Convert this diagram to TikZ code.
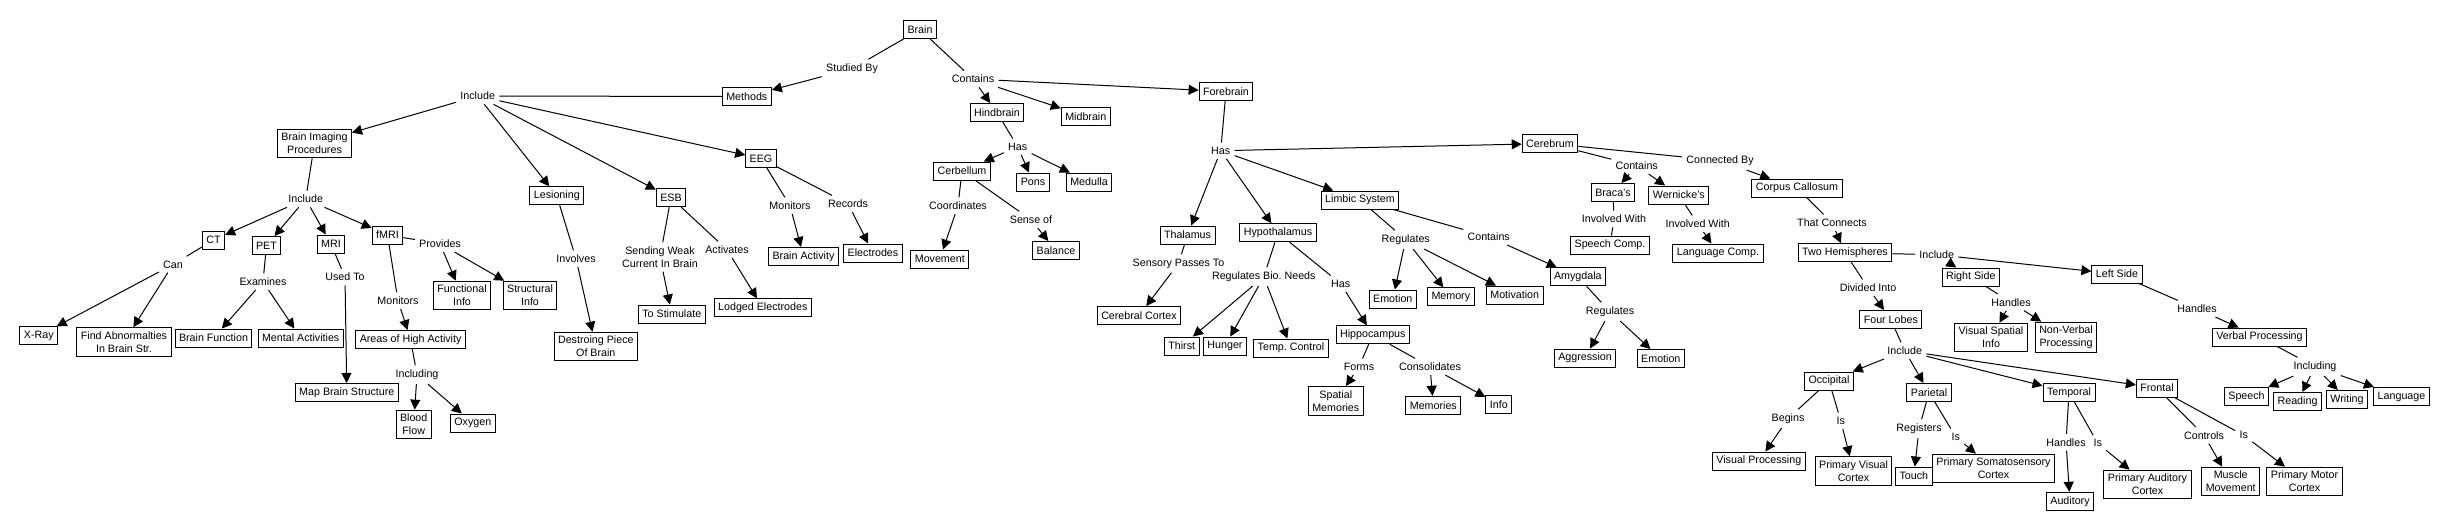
\documentclass[tikz,border=0pt]{standalone}
\usepackage{fontspec}
\setmainfont{Liberation Sans}
\usetikzlibrary{arrows.meta}

\begin{document}
\begin{tikzpicture}[x=0.5pt,y=-0.5pt,
		every node/.style={font=\fontsize{5.35}{6.4}\selectfont,align=center},
		box/.style={draw,line width=0.5pt,inner xsep=2pt,inner ysep=2pt,minimum height=9pt},
		lbl/.style={inner sep=2pt},
		arr/.style={-{Triangle[length=5pt,width=5pt]}},
		link/.style={line width=0.5pt}]
		\useasboundingbox (0,0) rectangle (2450,531);
		\node[box] (brain) at (920,29.5) {Brain};
		\node[lbl] (studied) at (852,68.7) {Studied By};
		\node[lbl] (contains) at (973,79) {Contains};
		\node[box] (methods) at (746.8,96.5) {Methods};
		\node[lbl] (incl) at (477.7,96) {Include};
		\node[box] (bip) at (314.5,143.5) {Brain Imaging\\Procedures};
		\node[box] (lesion) at (556.8,195.8) {Lesioning};
		\node[box] (esb) at (671,197.7) {ESB};
		\node[box] (eeg) at (761,158.5) {EEG};
		\node[lbl] (bipinc) at (305.7,199) {Include};
		\node[box] (ct) at (213.5,240) {CT};
		\node[box] (pet) at (266.5,245.5) {PET};
		\node[box] (mri) at (331,244) {MRI};
		\node[box] (fmri) at (387.5,235) {fMRI};
		\node[lbl] (can) at (173,264.5) {Can};
		\node[box] (xray) at (38.8,335.8) {X-Ray};
		\node[box] (abn) at (124,342) {Find Abnormalties\\In Brain Str.};
		\node[lbl] (exam) at (263,281.7) {Examines};
		\node[box] (bfunc) at (213.5,338) {Brain Function};
		\node[box] (mental) at (300.7,338) {Mental Activities};
		\node[lbl] (usedto) at (345,277) {Used To};
		\node[box] (map) at (346.8,392.5) {Map Brain Structure};
		\node[lbl] (fmon) at (398,300.7) {Monitors};
		\node[box] (areas) at (410.6,339.5) {Areas of High Activity};
		\node[lbl] (inclg) at (417,374.7) {Including};
		\node[box] (blood) at (413.7,424.5) {Blood\\Flow};
		\node[box] (oxy) at (472.8,423) {Oxygen};
		\node[lbl] (prov) at (440,243.7) {Provides};
		\node[box] (func) at (462,295.5) {Functional\\Info};
		\node[box] (struct) at (530,295.5) {Structural\\Info};
		\node[lbl] (invol) at (576,258.7) {Involves};
		\node[box] (destroy) at (595.8,346.5) {Destroing Piece\\Of Brain};
		\node[lbl] (send) at (660,257) {Sending Weak\\Current In Brain};
		\node[box] (stim) at (671.8,314) {To Stimulate};
		\node[lbl] (activ) at (727,249.7) {Activates};
		\node[box] (lodged) at (762.8,307.8) {Lodged Electrodes};
		\node[lbl] (emon) at (790,205.7) {Monitors};
		\node[box] (bact) at (803.5,256.5) {Brain Activity};
		\node[lbl] (rec) at (848,203.7) {Records};
		\node[box] (electr) at (873,253) {Electrodes};
		\node[box] (hind) at (997,112.5) {Hindbrain};
		\node[box] (mid) at (1085.8,116.5) {Midbrain};
		\node[box] (fore) at (1226,91.5) {Forebrain};
		\node[lbl] (hhas) at (1017.7,146.7) {Has};
		\node[box] (cerb) at (962,171) {Cerbellum};
		\node[box] (pons) at (1033,182) {Pons};
		\node[box] (medulla) at (1089,182) {Medulla};
		\node[lbl] (coord) at (958,205.7) {Coordinates};
		\node[lbl] (sense) at (1031,219.7) {Sense of};
		\node[box] (move) at (939.8,259) {Movement};
		\node[box] (bal) at (1056,250.5) {Balance};
		\node[lbl] (fhas) at (1220.7,150.7) {Has};
		\node[box] (thal) at (1187.5,235) {Thalamus};
		\node[box] (hypo) at (1278,232.8) {Hypothalamus};
		\node[box] (limbic) at (1360,200) {Limbic System};
		\node[box] (cerebrum) at (1550,143.5) {Cerebrum};
		\node[lbl] (sens) at (1178.5,263.5) {Sensory Passes To};
		\node[box] (cortex) at (1139,315.5) {Cerebral Cortex};
		\node[lbl] (regbio) at (1263.8,276.7) {Regulates Bio.\ Needs};
		\node[box] (thirst) at (1181.7,346) {Thirst};
		\node[box] (hunger) at (1225,346) {Hunger};
		\node[box] (temp) at (1291,348) {Temp.\ Control};
		\node[lbl] (yhas) at (1340.7,283.7) {Has};
		\node[box] (hippo) at (1372.8,334.8) {Hippocampus};
		\node[lbl] (forms) at (1359,366.7) {Forms};
		\node[lbl] (consol) at (1430,366.7) {Consolidates};
		\node[box] (spatial) at (1335.8,400.8) {Spatial\\Memories};
		\node[box] (memories) at (1433.3,405.3) {Memories};
		\node[box] (info) at (1498.8,404.3) {Info};
		\node[lbl] (lreg) at (1405.7,239.7) {Regulates};
		\node[lbl] (lcont) at (1488.7,236.7) {Contains};
		\node[box] (emo) at (1392.8,299) {Emotion};
		\node[box] (memory) at (1450.8,296.8) {Memory};
		\node[box] (motiv) at (1514.7,295) {Motivation};
		\node[box] (amyg) at (1577.8,276.8) {Amygdala};
		\node[lbl] (areg) at (1610,311.7) {Regulates};
		\node[box] (aggr) at (1585,358) {Aggression};
		\node[box] (aemo) at (1660.8,358.5) {Emotion};
		\node[lbl] (ccont) at (1636.7,165.7) {Contains};
		\node[box] (braca) at (1613,192.5) {Braca's};
		\node[box] (wern) at (1678.8,195) {Wernicke's};
		\node[lbl] (binv) at (1614,219) {Involved With};
		\node[box] (speechc) at (1610,245) {Speech Comp.};
		\node[lbl] (winv) at (1697.7,223.7) {Involved With};
		\node[box] (langc) at (1718,253) {Language Comp.};
		\node[lbl] (connby) at (1720,160.7) {Connected By};
		\node[box] (corpus) at (1797,188) {Corpus Callosum};
		\node[lbl] (thatc) at (1832,222.7) {That Connects};
		\node[box] (twoh) at (1845,252.7) {Two Hemispheres};
		\node[lbl] (hinc) at (1936.7,254.7) {Include};
		\node[box] (right) at (1970.8,277) {Right Side};
		\node[box] (left) at (2117,274) {Left Side};
		\node[lbl] (rhand) at (2011,302.3) {Handles};
		\node[box] (visspat) at (1991,337.5) {Visual Spatial\\Info};
		\node[box] (nonverb) at (2066,337.5) {Non-Verbal\\Processing};
		\node[lbl] (lhand) at (2197,308.7) {Handles};
		\node[box] (verbal) at (2259.5,337) {Verbal Processing};
		\node[lbl] (vincl) at (2315,366.7) {Including};
		\node[box] (speech) at (2246.5,396.5) {Speech};
		\node[box] (reading) at (2297.5,401.5) {Reading};
		\node[box] (writing) at (2347,399.5) {Writing};
		\node[box] (language) at (2401.5,396.5) {Language};
		\node[lbl] (divided) at (1868,287.7) {Divided Into};
		\node[box] (four) at (1890.8,319.5) {Four Lobes};
		\node[lbl] (linc) at (1904.7,350.7) {Include};
		\node[box] (occ) at (1829,381) {Occipital};
		\node[box] (par) at (1929,392.5) {Parietal};
		\node[box] (tempo) at (2069,392.5) {Temporal};
		\node[box] (front) at (2157,388) {Frontal};
		\node[lbl] (begins) at (1788,418.7) {Begins};
		\node[lbl] (ois) at (1840.7,420.7) {Is};
		\node[lbl] (regs) at (1919,428.7) {Registers};
		\node[lbl] (pis) at (1955.7,436.7) {Is};
		\node[box] (visproc) at (1758.8,461) {Visual Processing};
		\node[box] (pvc) at (1853.5,471) {Primary Visual\\Cortex};
		\node[box] (touch) at (1913.8,476) {Touch};
		\node[box] (psc) at (1993.5,468.5) {Primary Somatosensory\\Cortex};
		\node[lbl] (thand) at (2066,442.3) {Handles};
		\node[lbl] (tis) at (2097.7,443.3) {Is};
		\node[box] (aud) at (2070,501.3) {Auditory};
		\node[box] (pac) at (2147.5,484.5) {Primary Auditory\\Cortex};
		\node[lbl] (ctrl) at (2204,435.3) {Controls};
		\node[lbl] (fis) at (2243.7,435.3) {Is};
		\node[box] (muscle) at (2230.7,481.5) {Muscle\\Movement};
		\node[box] (pmc) at (2304.5,481.5) {Primary Motor\\Cortex};
		\draw[link] (brain) to (studied);
		\draw[link] (brain) to (contains);
		\draw[link,arr] (studied) to (methods);
		\draw[link,arr] (contains) to (hind);
		\draw[link,arr] (contains) to (mid);
		\draw[link,arr] (contains) to (fore);
		\draw[link] (methods) to (incl);
		\draw[link,arr] (incl) to (bip);
		\draw[link,arr] (incl) to (lesion);
		\draw[link,arr] (incl) to (esb);
		\draw[link,arr] (incl) to (eeg);
		\draw[link] (bip) to (bipinc);
		\draw[link,arr] (bipinc) to (ct);
		\draw[link,arr] (bipinc) to (pet);
		\draw[link,arr] (bipinc) to (mri);
		\draw[link,arr] (bipinc) to (fmri);
		\draw[link] (ct) to (can);
		\draw[link,arr] (can) to (xray);
		\draw[link,arr] (can) to (abn);
		\draw[link] (pet) to (exam);
		\draw[link,arr] (exam) to (bfunc);
		\draw[link,arr] (exam) to (mental);
		\draw[link] (mri) to (usedto);
		\draw[link,arr] (usedto) to (map);
		\draw[link] (fmri) to (fmon);
		\draw[link,arr] (fmon) to (areas);
		\draw[link] (areas) to (inclg);
		\draw[link,arr] (inclg) to (blood);
		\draw[link,arr] (inclg) to (oxy);
		\draw[link] (fmri) to (prov);
		\draw[link,arr] (prov) to (func);
		\draw[link,arr] (prov) to (struct);
		\draw[link] (lesion) to (invol);
		\draw[link,arr] (invol) to (destroy);
		\draw[link] (esb) to (send);
		\draw[link,arr] (send) to (stim);
		\draw[link] (esb) to (activ);
		\draw[link,arr] (activ) to (lodged);
		\draw[link] (eeg) to (emon);
		\draw[link,arr] (emon) to (bact);
		\draw[link] (eeg) to (rec);
		\draw[link,arr] (rec) to (electr);
		\draw[link] (hind) to (hhas);
		\draw[link,arr] (hhas) to (cerb);
		\draw[link,arr] (hhas) to (pons);
		\draw[link,arr] (hhas) to (medulla);
		\draw[link] (cerb) to (coord);
		\draw[link,arr] (coord) to (move);
		\draw[link] (cerb) to (sense);
		\draw[link,arr] (sense) to (bal);
		\draw[link] (fore) to (fhas);
		\draw[link,arr] (fhas) to (thal);
		\draw[link,arr] (fhas) to (hypo);
		\draw[link,arr] (fhas) to (limbic);
		\draw[link,arr] (fhas) to (cerebrum);
		\draw[link] (thal) to (sens);
		\draw[link,arr] (sens) to (cortex);
		\draw[link] (hypo) to (regbio);
		\draw[link,arr] (regbio) to (thirst);
		\draw[link,arr] (regbio) to (hunger);
		\draw[link,arr] (regbio) to (temp);
		\draw[link] (hypo) to (yhas);
		\draw[link,arr] (yhas) to (hippo);
		\draw[link] (hippo) to (forms);
		\draw[link,arr] (forms) to (spatial);
		\draw[link] (hippo) to (consol);
		\draw[link,arr] (consol) to (memories);
		\draw[link,arr] (consol) to (info);
		\draw[link] (limbic) to (lreg);
		\draw[link,arr] (lreg) to (emo);
		\draw[link,arr] (lreg) to (memory);
		\draw[link,arr] (lreg) to (motiv);
		\draw[link] (limbic) to (lcont);
		\draw[link,arr] (lcont) to (amyg);
		\draw[link] (amyg) to (areg);
		\draw[link,arr] (areg) to (aggr);
		\draw[link,arr] (areg) to (aemo);
		\draw[link] (cerebrum) to (ccont);
		\draw[link,arr] (ccont) to (braca);
		\draw[link,arr] (ccont) to (wern);
		\draw[link] (braca) to (binv);
		\draw[link] (binv) to (speechc);
		\draw[link] (wern) to (winv);
		\draw[link,arr] (winv) to (langc);
		\draw[link] (cerebrum) to (connby);
		\draw[link,arr] (connby) to (corpus);
		\draw[link] (corpus) to (thatc);
		\draw[link,arr] (thatc) to (twoh);
		\draw[link] (twoh) to (hinc);
		\draw[link,arr] (hinc) to (right);
		\draw[link,arr] (hinc) to (left);
		\draw[link] (right) to (rhand);
		\draw[link,arr] (rhand) to (visspat);
		\draw[link,arr] (rhand) to (nonverb);
		\draw[link] (left) to (lhand);
		\draw[link,arr] (lhand) to (verbal);
		\draw[link] (verbal) to (vincl);
		\draw[link,arr] (vincl) to (speech);
		\draw[link,arr] (vincl) to (reading);
		\draw[link,arr] (vincl) to (writing);
		\draw[link,arr] (vincl) to (language);
		\draw[link] (twoh) to (divided);
		\draw[link,arr] (divided) to (four);
		\draw[link] (four) to (linc);
		\draw[link,arr] (linc) to (occ);
		\draw[link,arr] (linc) to (par);
		\draw[link,arr] (linc) to (tempo);
		\draw[link,arr] (linc) to (front);
		\draw[link] (occ) to (begins);
		\draw[link,arr] (begins) to (visproc);
		\draw[link] (occ) to (ois);
		\draw[link,arr] (ois) to (pvc);
		\draw[link] (par) to (regs);
		\draw[link,arr] (regs) to (touch);
		\draw[link] (par) to (pis);
		\draw[link,arr] (pis) to (psc);
		\draw[link] (tempo) to (thand);
		\draw[link,arr] (thand) to (aud);
		\draw[link] (tempo) to (tis);
		\draw[link,arr] (tis) to (pac);
		\draw[link] (front) to (ctrl);
		\draw[link,arr] (ctrl) to (muscle);
		\draw[link] (front) to (fis);
		\draw[link,arr] (fis) to (pmc);
	\end{tikzpicture}
\end{document}
